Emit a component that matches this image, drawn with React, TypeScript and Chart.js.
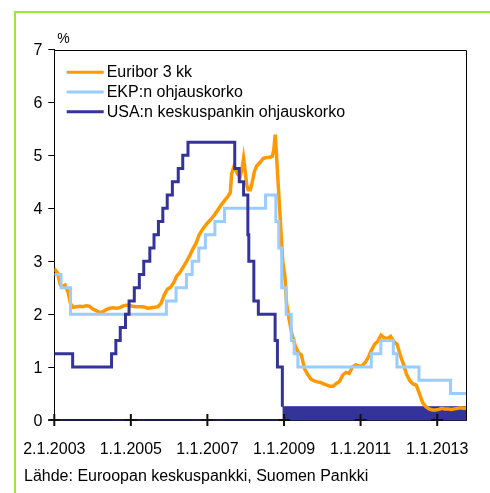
import React, { useEffect, useRef } from "react";
import { Chart, registerables } from "chart.js";

Chart.register(...registerables);

// ---- Data ----
const seriesLabels = ["Euribor 3 kk", "EKP:n ohjauskorko", "USA:n keskuspankin ohjauskorko"];

const euriborDates = [
  "2003-01-02", "2003-02-01", "2003-03-01", "2003-03-20", "2003-04-15", "2003-05-15", "2003-06-05",
  "2003-07-01", "2003-08-01", "2003-09-01", "2003-10-01", "2003-11-01", "2003-12-01",
  "2004-01-01", "2004-02-01", "2004-03-15", "2004-04-15", "2004-05-15", "2004-06-15",
  "2004-07-15", "2004-08-15", "2004-09-15", "2004-10-15", "2004-11-15", "2004-12-15",
  "2005-01-15", "2005-02-15", "2005-03-15", "2005-04-15", "2005-05-15", "2005-06-15",
  "2005-07-15", "2005-08-15", "2005-09-15", "2005-10-15", "2005-11-15", "2005-12-15",
  "2006-01-15", "2006-02-15", "2006-03-15", "2006-04-15", "2006-05-15", "2006-06-15",
  "2006-07-15", "2006-08-15", "2006-09-15", "2006-10-15", "2006-11-15", "2006-12-15",
  "2007-01-15", "2007-02-15", "2007-03-15", "2007-04-15", "2007-05-15", "2007-06-15",
  "2007-07-15", "2007-08-08", "2007-08-20", "2007-09-10", "2007-09-25", "2007-10-15",
  "2007-11-10", "2007-11-25", "2007-12-12", "2007-12-28", "2008-01-10", "2008-01-25",
  "2008-02-15", "2008-03-10", "2008-03-25", "2008-04-15", "2008-05-15", "2008-06-15",
  "2008-07-15", "2008-08-15", "2008-09-10", "2008-09-25", "2008-10-09", "2008-10-20",
  "2008-11-05", "2008-11-20", "2008-12-05", "2008-12-20", "2009-01-10", "2009-01-25",
  "2009-02-15", "2009-03-15", "2009-04-15", "2009-05-15", "2009-06-15", "2009-07-15",
  "2009-08-15", "2009-09-15", "2009-10-15", "2009-11-15", "2009-12-15",
  "2010-01-15", "2010-02-15", "2010-03-15", "2010-04-15", "2010-05-15", "2010-06-15",
  "2010-07-15", "2010-08-15", "2010-09-15", "2010-10-15", "2010-11-15", "2010-12-15",
  "2011-01-15", "2011-02-15", "2011-03-15", "2011-04-15", "2011-05-15", "2011-06-15",
  "2011-07-15", "2011-08-15", "2011-09-15", "2011-10-15", "2011-11-15", "2011-12-15",
  "2012-01-15", "2012-02-15", "2012-03-15", "2012-04-15", "2012-05-15", "2012-06-15",
  "2012-07-15", "2012-08-15", "2012-09-15", "2012-10-15", "2012-11-15", "2012-12-15",
  "2013-01-15", "2013-02-15", "2013-03-15", "2013-04-15", "2013-05-15", "2013-06-15",
  "2013-07-15", "2013-08-15", "2013-09-15", "2013-10-04",
];
const euriborValues = [
  2.86, 2.78, 2.55, 2.52, 2.55, 2.40, 2.20,
  2.13, 2.14, 2.15, 2.14, 2.16, 2.15,
  2.10, 2.07, 2.03, 2.05, 2.09, 2.11,
  2.12, 2.11, 2.12, 2.15, 2.17, 2.17,
  2.15, 2.14, 2.14, 2.14, 2.13, 2.11,
  2.12, 2.13, 2.14, 2.20, 2.36, 2.47,
  2.51, 2.60, 2.72, 2.79, 2.89, 2.99,
  3.10, 3.23, 3.34, 3.50, 3.60, 3.68,
  3.75, 3.82, 3.89, 3.98, 4.07, 4.15,
  4.22, 4.30, 4.65, 4.78, 4.75, 4.65,
  4.60, 4.72, 4.95, 4.70, 4.45, 4.35,
  4.35, 4.55, 4.70, 4.80, 4.86, 4.94,
  4.96, 4.96, 4.98, 5.10, 5.39, 5.05,
  4.50, 4.00, 3.50, 3.00, 2.70, 2.20,
  1.94, 1.64, 1.42, 1.28, 1.23, 0.97,
  0.86, 0.77, 0.74, 0.72, 0.71,
  0.68, 0.66, 0.64, 0.64, 0.69, 0.73,
  0.85, 0.90, 0.88, 1.00, 1.04, 1.02,
  1.02, 1.09, 1.18, 1.32, 1.43, 1.49,
  1.60, 1.55, 1.54, 1.58, 1.48, 1.43,
  1.22, 1.05, 0.86, 0.74, 0.68, 0.66,
  0.50, 0.33, 0.25, 0.21, 0.19, 0.19,
  0.20, 0.22, 0.21, 0.21, 0.20, 0.21,
  0.22, 0.23, 0.22, 0.23,
];

const ecbDates = [
  "2003-01-02", "2003-03-07", "2003-06-06", "2005-12-06", "2006-03-08", "2006-06-15",
  "2006-08-09", "2006-10-11", "2006-12-13", "2007-03-14", "2007-06-13", "2008-07-09",
  "2008-10-15", "2008-11-12", "2008-12-10", "2009-01-21", "2009-03-11", "2009-04-08",
  "2009-05-13", "2011-04-13", "2011-07-13", "2011-11-09", "2011-12-14", "2012-07-11",
  "2013-05-08", "2013-10-04",
];
const ecbValues = [
  2.75, 2.5, 2.0, 2.25, 2.5, 2.75,
  3.0, 3.25, 3.5, 3.75, 4.0, 4.25,
  3.75, 3.25, 2.5, 2.0, 1.5, 1.25,
  1.0, 1.25, 1.5, 1.25, 1.0, 0.75,
  0.5, 0.5,
];

const fedDates = [
  "2003-01-02", "2003-06-26", "2004-07-01", "2004-08-11", "2004-09-22", "2004-11-11",
  "2004-12-15", "2005-02-03", "2005-03-23", "2005-05-04", "2005-07-01", "2005-08-10",
  "2005-09-21", "2005-11-02", "2005-12-14", "2006-02-01", "2006-03-29", "2006-05-11",
  "2006-06-30", "2007-09-19", "2007-11-01", "2007-12-12", "2008-01-22", "2008-01-31",
  "2008-03-19", "2008-05-01", "2008-10-08", "2008-10-30", "2008-12-16",
];
const fedValues = [
  1.25, 1.0, 1.25, 1.5, 1.75, 2.0,
  2.25, 2.5, 2.75, 3.0, 3.25, 3.5,
  3.75, 4.0, 4.25, 4.5, 4.75, 5.0,
  5.25, 4.75, 4.5, 4.25, 3.5, 3.0,
  2.25, 2.0, 1.5, 1.0, 0.25,
];
// Fed target range 0–0.25 % since 16.12.2008
const fedBandDates = ["2008-12-16", "2013-10-04"];
const fedBandValues = [0.25, 0.25];

const xTickDates = ["2003-01-02", "2005-01-01", "2007-01-01", "2009-01-01", "2011-01-01", "2013-01-01"];
const xTickLabels = ["2.1.2003", "1.1.2005", "1.1.2007", "1.1.2009", "1.1.2011", "1.1.2013"];
const xMinDate = "2003-01-02";
const xMaxDate = "2013-10-04";
const yMin = 0;
const yMax = 7;
const yUnit = "%";
const sourceText = "Lähde: Euroopan keskuspankki, Suomen Pankki";

const colors = ["#FF9900", "#99CCFF", "#333399"];

const FONT = "'Liberation Sans', Arial, sans-serif";
const toX = (s: string) => Date.parse(s);
const toPoints = (dates: string[], values: number[]) =>
  dates.map((d, i) => ({ x: toX(d), y: values[i] }));

const tickValues = xTickDates.map(toX);

const overlayPlugin = {
  id: "overlay",
  afterDatasetsDraw(chart: any) {
    const { ctx, chartArea } = chart;
    const xs = chart.scales.x;
    const ys = chart.scales.y;
    ctx.save();
    // frame: top and right
    ctx.strokeStyle = "#000";
    ctx.lineWidth = 1;
    ctx.beginPath();
    ctx.moveTo(chartArea.left, Math.round(chartArea.top) + 0.5);
    ctx.lineTo(Math.round(chartArea.right) + 0.5, Math.round(chartArea.top) + 0.5);
    ctx.lineTo(Math.round(chartArea.right) + 0.5, chartArea.bottom);
    ctx.stroke();
    // crosses on x axis
    const y0 = ys.getPixelForValue(0);
    ctx.lineWidth = 2;
    ctx.strokeStyle = "#111";
    tickValues.forEach((v) => {
      const px = xs.getPixelForValue(v);
      ctx.beginPath();
      ctx.moveTo(px, y0 - 6);
      ctx.lineTo(px, y0 + 6);
      ctx.moveTo(px - 6, y0);
      ctx.lineTo(px + 6, y0);
      ctx.stroke();
    });
    // legend inside chart area
    const lx = chartArea.left + 12.4;
    const ly = chartArea.top + 22.8;
    ctx.font = `16px ${FONT}`;
    ctx.textBaseline = "middle";
    ctx.textAlign = "left";
    seriesLabels.forEach((lab, i) => {
      const y = ly + i * 19.7;
      ctx.strokeStyle = colors[i];
      ctx.lineWidth = 3;
      ctx.beginPath();
      ctx.moveTo(lx, y);
      ctx.lineTo(lx + 37, y);
      ctx.stroke();
      ctx.fillStyle = "#000";
      ctx.fillText(lab, lx + 40, y + 0.5);
    });
    // unit label
    ctx.font = `14px ${FONT}`;
    ctx.textBaseline = "alphabetic";
    ctx.fillText(yUnit, chartArea.left + 3, chartArea.top - 6.5);
    // source
    ctx.font = `16px ${FONT}`;
    ctx.fillText(sourceText, 24, 481);
    ctx.restore();
  },
};

export default function App() {
  const ref = useRef<HTMLCanvasElement | null>(null);
  useEffect(() => {
    document.body.style.margin = "0";
    document.body.style.overflow = "hidden";
    const canvas = ref.current;
    if (!canvas) return;
    Chart.defaults.font.family = FONT;
    Chart.defaults.color = "#000";
    const chart = new Chart(canvas, {
      type: "line",
      data: {
        datasets: [
          {
            label: seriesLabels[2],
            data: toPoints(fedDates, fedValues),
            borderColor: colors[2],
            borderWidth: 3,
            stepped: true,
            pointRadius: 0,
            fill: false,
            order: 1,
          },
          {
            label: seriesLabels[1],
            data: toPoints(ecbDates, ecbValues),
            borderColor: colors[1],
            borderWidth: 3,
            stepped: true,
            pointRadius: 0,
            fill: false,
            order: 2,
          },
          {
            label: seriesLabels[0],
            data: toPoints(euriborDates, euriborValues),
            borderColor: colors[0],
            borderWidth: 3.5,
            pointRadius: 0,
            fill: false,
            tension: 0,
            order: 3,
          },
          {
            label: "band",
            data: toPoints(fedBandDates, fedBandValues),
            borderColor: colors[2],
            backgroundColor: colors[2],
            borderWidth: 1,
            pointRadius: 0,
            fill: "origin",
            order: 4,
          },
        ],
      },
      options: {
        responsive: false,
        animation: false,
        devicePixelRatio: 1,
        layout: {
          autoPadding: false,
          padding: { left: 0, top: 49.5, right: 23.3, bottom: 33 },
        },
        plugins: {
          legend: { display: false },
          tooltip: { enabled: false },
        },
        scales: {
          x: {
            type: "linear",
            min: toX(xMinDate),
            max: toX(xMaxDate),
            grid: { display: false, drawTicks: false },
            border: { display: true, color: "#1c1c48", width: 2 },
            ticks: {
              autoSkip: false,
              maxRotation: 0,
              padding: 20,
              font: { size: 16 },
              color: "#000",
              callback: (v: any) => {
                const i = tickValues.indexOf(Number(v));
                return i >= 0 ? xTickLabels[i] : "";
              },
            },
            afterBuildTicks: (scale: any) => {
              scale.ticks = tickValues.map((v) => ({ value: v }));
            },
            afterFit: (scale: any) => {
              scale.height = 40;
            },
          },
          y: {
            min: yMin,
            max: yMax,
            ticks: { stepSize: 1, padding: 6, font: { size: 16 }, color: "#000", labelOffset: 1.5 },
            grid: { drawOnChartArea: false, tickLength: 6, color: "#000", lineWidth: 1 },
            border: { display: true, color: "#000", width: 1 },
            afterFit: (scale: any) => {
              scale.width = 54.3;
            },
          },
        },
      },
      plugins: [overlayPlugin],
    });
    return () => chart.destroy();
  }, []);

  return (
    <div style={{ position: "relative", width: 490, height: 493, background: "#fff" }}>
      <div
        style={{
          position: "absolute",
          left: 14,
          top: 11,
          width: 474,
          height: 480,
          borderLeft: "2px solid #9CE83A",
          borderTop: "2px solid #9CE83A",
          boxSizing: "content-box",
        }}
      />
      <canvas ref={ref} width={490} height={493} style={{ position: "absolute", left: 0, top: 0 }} />
    </div>
  );
}
